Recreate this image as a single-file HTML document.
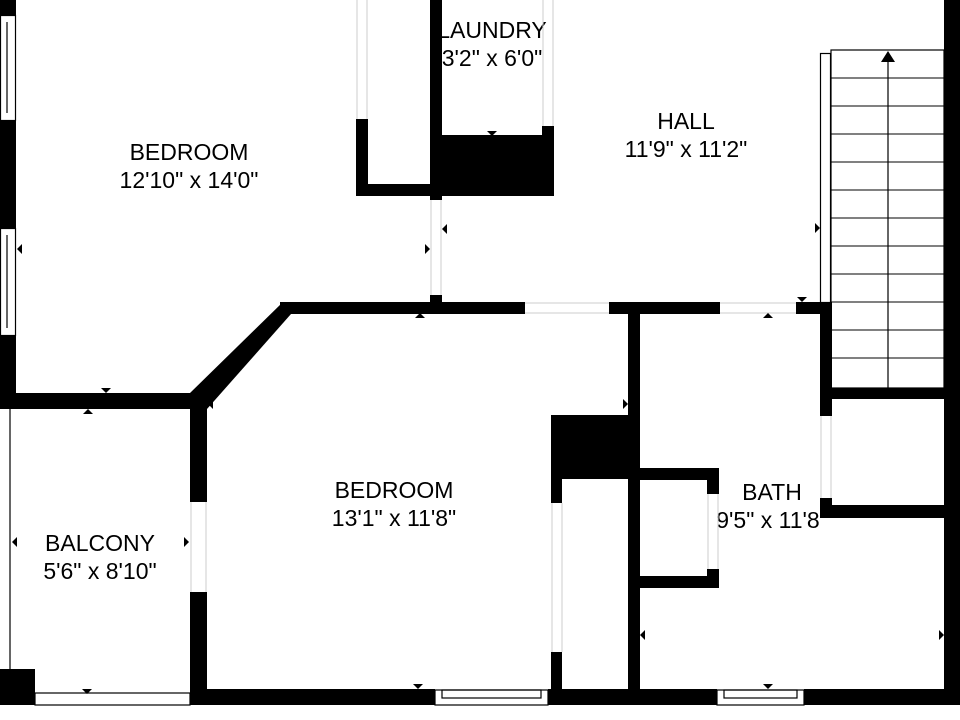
<!DOCTYPE html>
<html><head><meta charset="utf-8"><style>html,body{margin:0;padding:0;background:#fff}svg{display:block}</style></head><body>
<svg width="960" height="720" viewBox="0 0 960 720" xmlns="http://www.w3.org/2000/svg" font-family="Liberation Sans, sans-serif" font-size="23" text-anchor="middle" fill="#000">
<rect width="960" height="720" fill="#fff"/>
<text x="189" y="160">BEDROOM</text><text x="189" y="188">12'10" x 14'0"</text>
<text x="686" y="129">HALL</text><text x="686" y="157">11'9" x 11'2"</text>
<text x="492" y="38">LAUNDRY</text><text x="492" y="66">3'2" x 6'0"</text>
<text x="394" y="498">BEDROOM</text><text x="394" y="526">13'1" x 11'8"</text>
<text x="100" y="551">BALCONY</text><text x="100" y="579">5'6" x 8'10"</text>
<text x="772" y="500">BATH</text><text x="768" y="528">9'5" x 11'8</text>
<g fill="#000" stroke="none">
<rect x="0" y="0" width="16" height="15"/>
<rect x="0" y="120" width="16" height="108"/>
<rect x="0" y="335" width="16" height="74"/>
<rect x="944" y="0" width="16" height="705"/>
<rect x="430" y="0" width="12" height="200"/>
<rect x="442" y="135" width="112" height="61"/>
<rect x="542" y="126" width="12" height="70"/>
<rect x="356" y="119" width="12" height="77"/>
<rect x="356" y="184" width="86" height="12"/>
<rect x="430" y="295" width="12" height="10"/>
<rect x="280" y="302" width="245" height="12"/>
<rect x="609" y="302" width="111" height="12"/>
<rect x="796" y="302" width="36" height="12"/>
<rect x="820" y="302" width="12" height="114"/>
<rect x="820" y="498" width="12" height="12"/>
<rect x="820" y="505" width="124" height="13"/>
<rect x="821" y="388" width="123" height="11"/>
<rect x="0" y="393" width="207" height="16"/>
<rect x="190" y="393" width="17" height="109"/>
<rect x="190" y="592" width="17" height="113"/>
<polygon points="190,393 207,409 291,314 283,302"/>
<rect x="0" y="669" width="35" height="36"/>
<rect x="190" y="689" width="245" height="16"/>
<rect x="548" y="689" width="169" height="16"/>
<rect x="804" y="689" width="156" height="16"/>
<rect x="628" y="302" width="12" height="403"/>
<rect x="551" y="415" width="89" height="64"/>
<rect x="551" y="479" width="11" height="24"/>
<rect x="551" y="652" width="11" height="53"/>
<rect x="640" y="468" width="79" height="12"/>
<rect x="707" y="468" width="12" height="26"/>
<rect x="640" y="576" width="79" height="12"/>
<rect x="707" y="569" width="12" height="19"/>
</g>
<g fill="none" stroke="#000" stroke-width="1.2">
<rect x="0.5" y="15.5" width="15" height="105"/><line x1="7" y1="22" x2="7" y2="113"/>
<rect x="0.5" y="228.5" width="15" height="107"/><line x1="7" y1="235" x2="7" y2="328"/>
<line x1="10" y1="409" x2="10" y2="669"/>
<rect x="35" y="693" width="155" height="12"/>
<rect x="435" y="690" width="113" height="15"/><rect x="442" y="690" width="99" height="8"/>
<rect x="717" y="690" width="87" height="15"/><rect x="724" y="690" width="73" height="8"/>
<rect x="820.5" y="53.5" width="10" height="249"/>
<rect x="831" y="50" width="113" height="338"/>
<line x1="888" y1="58" x2="888" y2="388"/>
</g>
<g stroke="#000" stroke-width="1">
<line x1="831" y1="78" x2="944" y2="78"/><line x1="831" y1="106" x2="944" y2="106"/><line x1="831" y1="134" x2="944" y2="134"/>
<line x1="831" y1="162" x2="944" y2="162"/><line x1="831" y1="190" x2="944" y2="190"/><line x1="831" y1="218" x2="944" y2="218"/>
<line x1="831" y1="246" x2="944" y2="246"/><line x1="831" y1="274" x2="944" y2="274"/><line x1="831" y1="302" x2="944" y2="302"/>
<line x1="831" y1="330" x2="944" y2="330"/><line x1="831" y1="358" x2="944" y2="358"/>
</g>
<g stroke="#ccc" stroke-width="1" fill="none">
<line x1="357" y1="0" x2="357" y2="119"/><line x1="367" y1="0" x2="367" y2="119"/>
<line x1="543" y1="0" x2="543" y2="126"/><line x1="553" y1="0" x2="553" y2="126"/>
<line x1="431" y1="200" x2="431" y2="295"/><line x1="441" y1="200" x2="441" y2="295"/>
<line x1="525" y1="303" x2="609" y2="303"/><line x1="525" y1="313" x2="609" y2="313"/>
<line x1="720" y1="303" x2="796" y2="303"/><line x1="720" y1="313" x2="796" y2="313"/>
<line x1="821" y1="416" x2="821" y2="498"/><line x1="831" y1="416" x2="831" y2="498"/>
<line x1="191" y1="502" x2="191" y2="592"/><line x1="206" y1="502" x2="206" y2="592"/>
<line x1="552" y1="503" x2="552" y2="652"/><line x1="562" y1="503" x2="562" y2="652"/>
<line x1="708" y1="494" x2="708" y2="569"/><line x1="718" y1="494" x2="718" y2="569"/>
</g>
<g fill="#000">
<polygon points="881,62 888,51 895,62"/>
<polygon points="487,131 497,131 492,136"/>
<polygon points="17,249 22,244 22,254"/>
<polygon points="430,249 425,244 425,254"/>
<polygon points="442,229 447,224 447,234"/>
<polygon points="415,318 420,313 425,318"/>
<polygon points="101,388 111,388 106,393"/>
<polygon points="83,414 88,409 93,414"/>
<polygon points="208,404 213,399 213,409"/>
<polygon points="628,404 623,399 623,409"/>
<polygon points="12,542 17,537 17,547"/>
<polygon points="189,542 184,537 184,547"/>
<polygon points="82,689 92,689 87,694"/>
<polygon points="413,684 423,684 418,689"/>
<polygon points="763,318 768,313 773,318"/>
<polygon points="797,297 807,297 802,302"/>
<polygon points="820,228 815,223 815,233"/>
<polygon points="640,635 645,630 645,640"/>
<polygon points="944,635 939,630 939,640"/>
<polygon points="763,684 773,684 768,689"/>
</g>
</svg>
</body></html>
